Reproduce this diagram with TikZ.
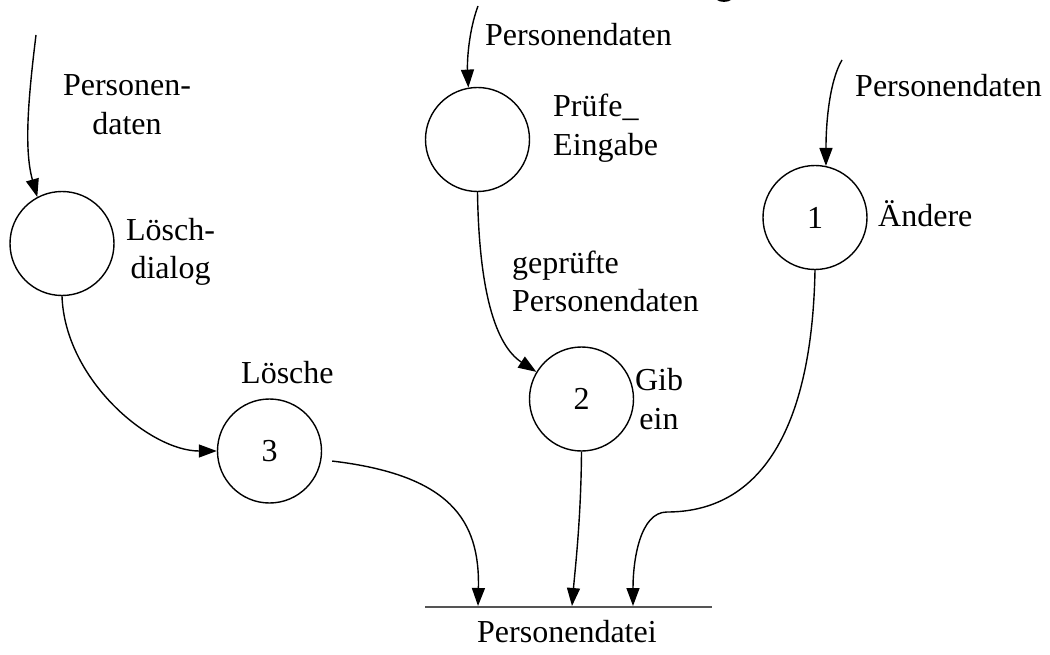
\documentclass[tikz,border=0pt]{standalone}
\usepackage{fontspec}
\setmainfont{Liberation Serif}
\usetikzlibrary{arrows.meta,calc}
\definecolor{storegray}{HTML}{555555}
\begin{document}
\begin{tikzpicture}[x=1pt,y=-1pt,
  every node/.style={font=\fontsize{32}{39}\selectfont, inner sep=0pt},
  process/.style={circle, draw, line width=1.4pt, minimum size=104pt},
  flow/.style={line width=1.4pt, -{Triangle[length=18pt,width=13pt]}},
  lbl/.style={anchor=base west, align=left},
  lblc/.style={anchor=base, align=center},
  store/.style={line width=1.8pt, draw=storegray}]
  \path[use as bounding box] (0,0) rectangle (1050,655);

  % bottom of the heading glyph, cut by the page edge
  \fill (717,0) .. controls (720,2.5) and (728,2.5) .. (731,0) -- cycle;

  % processes
  \node[process] (dialog)  at (62,243.5)  {};
  \node[process] (pruefe)  at (477.5,139.5) {};
  \node[process] (aendere) at (815,217.5) {1};
  \node[process] (gibein)  at (581.5,399) {2};
  \node[process] (loesche) at (269.5,451) {3};

  % process and flow labels (base = baseline of the last line)
  \node[lblc] (l-dialog-in)  at (127,135)   {Personen-\\daten};
  \node[lblc] (l-dialog)     at (170.5,279) {Lösch-\\dialog};
  \node[lbl]  (l-pruefe-in)  at (485,46)    {Personendaten};
  \node[lbl]  (l-pruefe)     at (553,156)   {Prüfe\_\\Eingabe};
  \node[lbl]  (l-geprueft)   at (512,312)   {geprüfte\\Personendaten};
  \node[lbl]  (l-aendere-in) at (855,97)    {Personendaten};
  \node[lbl]  (l-aendere)    at (878,227)   {Ändere};
  \node[lblc] (l-gibein)     at (659,429)   {Gib\\ein};
  \node[lbl]  (l-loesche)    at (241,383)   {Lösche};
  \node[lbl]  (l-datei)      at (477,642)   {Personendatei};

  % data store
  \coordinate (dateiL) at (425,607);
  \coordinate (dateiR) at (712,607);
  \draw[store] (dateiL) -- (dateiR);
  \coordinate (s1) at (478,606);
  \coordinate (s2) at (572,606);
  \coordinate (s3) at (633,606);

  % external sources
  \coordinate (src-dialog)  at (36,35);
  \coordinate (src-pruefe)  at (478,6);
  \coordinate (src-aendere) at (842,60);

  % data flows
  \draw[flow] (src-dialog) .. controls (28,100) and (24,150) .. (dialog.118);
  \draw[flow] (src-pruefe) .. controls (469,30) and (467,60) .. (pruefe.100);
  \draw[flow] (src-aendere) .. controls (830,80) and (826,120) .. (aendere.78);
  \draw[flow] (dialog.south) .. controls (65,380) and (150,451) .. (loesche.west);
  \draw[flow] (pruefe.south) .. controls (479,290) and (495,345) .. (gibein.149);
  \draw[flow] ([xshift=11pt]loesche.-11) .. controls (450,475) and (480,520) .. (s1);
  \draw[flow] (gibein.south) .. controls (581,520) and (575,570) .. (s2);
  \draw[flow] (aendere.south) .. controls (812,430) and (760,512) .. (667,512)
              .. controls (640,512) and (633,560) .. (s3);
\end{tikzpicture}
\end{document}
